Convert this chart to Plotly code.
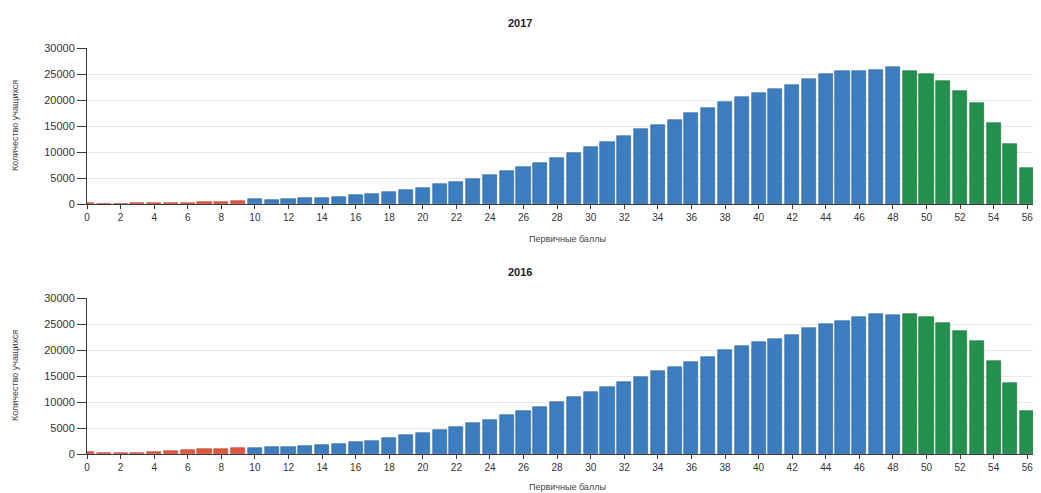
import plotly.graph_objects as go

# ---------------- data ----------------
scores = list(range(0, 58))

counts_2017 = [250, 60, 60, 130, 130, 190, 260, 450, 450, 640,
               900, 770, 1030, 1220, 1220, 1410, 1670, 1920, 2310, 2690,
               3140, 3780, 4230, 4870, 5640, 6350, 7050, 7950, 8930, 9860,
               10890, 11970, 13060, 14340, 15170, 16130, 17410, 18370, 19710, 20610,
               21380, 22210, 22980, 24000, 24960, 25600, 25600, 25730, 26370, 25540,
               25020, 23620, 21700, 19330, 15620, 11590, 6980, 3020]

counts_2016 = [300, 100, 130, 260, 450, 640, 830, 900, 960, 1220,
               1220, 1410, 1410, 1600, 1730, 1920, 2370, 2500, 3080, 3590,
               3970, 4550, 5190, 6030, 6540, 7440, 8330, 9030, 9970, 11030,
               11990, 12950, 13780, 14870, 15900, 16730, 17690, 18590, 19940, 20830,
               21470, 22180, 22950, 24230, 25000, 25640, 26280, 26860, 26730, 26860,
               26280, 25250, 23590, 21670, 17820, 13590, 8200, 3330]

fail_max = 9      # scores 0..9 -> red
high_min = 49     # scores 49.. -> green
x_ticks = list(range(0, 57, 2))
y_ticks = [0, 5000, 10000, 15000, 20000, 25000, 30000]

titles = ["2017", "2016"]
x_title = "Первичные баллы"
y_title = "Количество учащихся"

RED = "#e0563d"
BLUE = "#3b7dbf"
GREEN = "#23904e"
EDGE = {RED: "#b8442f", BLUE: "#2f6396", GREEN: "#1a6d3b"}


def color_for(s):
    if s <= fail_max:
        return RED
    if s >= high_min:
        return GREEN
    return BLUE


colors = [color_for(s) for s in scores]
edges = [EDGE[c] for c in colors]

fig = go.Figure()
for i, vals in enumerate([counts_2017, counts_2016]):
    suffix = "" if i == 0 else "2"
    fig.add_trace(go.Bar(
        x=scores, y=vals, width=0.84,
        marker=dict(color=colors, line=dict(color=edges, width=0.6)),
        xaxis="x" + suffix, yaxis="y" + suffix, showlegend=False,
    ))

# page body has an 8px margin: figure starts at screen (8, 8)
OFF = 8
W, H = 1041 - OFF, 493 - OFF
L = 87 - OFF
font_family = "Liberation Sans, Arial, sans-serif"

axis_common_x = dict(
    range=[0, 56.82], tickmode="array", tickvals=x_ticks,
    ticktext=[str(t) for t in x_ticks],
    showgrid=False, zeroline=False, automargin=False,
    showline=True, linecolor="#3a3a3a", linewidth=1,
    ticks="outside", ticklen=4, tickcolor="#3a3a3a",
    tickfont=dict(size=10, color="#333", family=font_family),
)
axis_common_y = dict(
    range=[0, 30000], tickmode="array", tickvals=y_ticks,
    ticktext=[str(t) for t in y_ticks],
    showgrid=True, gridcolor="#e9e9e9", gridwidth=1, zeroline=False, automargin=False,
    showline=True, linecolor="#3a3a3a", linewidth=1,
    ticks="outside", ticklen=9, tickcolor="#3a3a3a",
    tickfont=dict(size=11, color="#333", family=font_family),
)


def py(p):  # screen y pixel -> paper fraction
    return 1 - (p - OFF) / H


def px(p):  # screen x pixel -> paper fraction
    return (p - OFF - L) / (W - L)


top_dom = [py(204), py(48)]
bot_dom = [py(454), py(298)]

fig.update_layout(
    width=W, height=H,
    margin=dict(l=L, r=0, t=0, b=0, autoexpand=False),
    plot_bgcolor="white", paper_bgcolor="white",
    bargap=0,
    xaxis=dict(axis_common_x, domain=[0, 1], anchor="y"),
    yaxis=dict(axis_common_y, domain=top_dom, anchor="x"),
    xaxis2=dict(axis_common_x, domain=[0, 1], anchor="y2"),
    yaxis2=dict(axis_common_y, domain=bot_dom, anchor="x2"),
)

ann = []
for title, ty, xt_y, yt_y in [(titles[0], 23, 239, 126), (titles[1], 272, 487, 376)]:
    ann.append(dict(text="<b>%s</b>" % title, x=px(520), y=py(ty), xref="paper", yref="paper",
                    showarrow=False, xanchor="center", yanchor="middle",
                    font=dict(size=11, color="#222", family=font_family)))
    ann.append(dict(text=x_title, x=px(567), y=py(xt_y), xref="paper", yref="paper",
                    showarrow=False, xanchor="center", yanchor="middle",
                    font=dict(size=9, color="#444", family=font_family)))
    ann.append(dict(text=y_title, x=px(15), y=py(yt_y), xref="paper", yref="paper",
                    showarrow=False, xanchor="center", yanchor="middle", textangle=-90,
                    font=dict(size=9, color="#444", family=font_family)))
fig.update_layout(annotations=ann)

fig.write_html("out.html")
